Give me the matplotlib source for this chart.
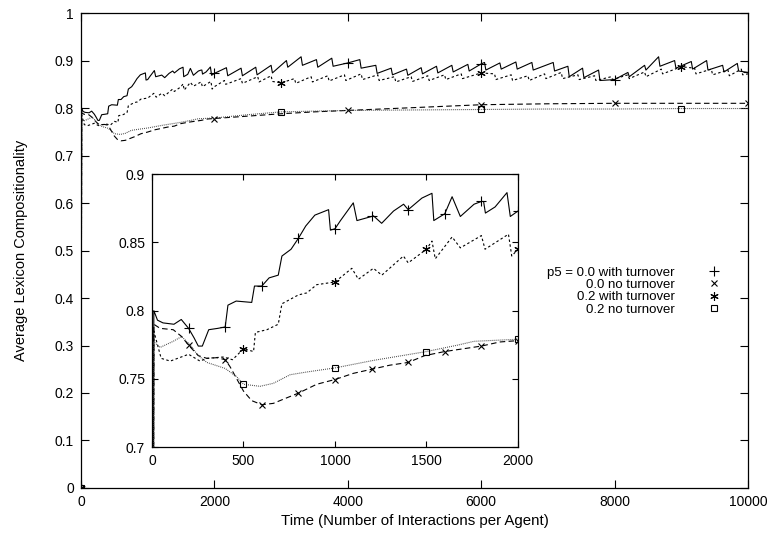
import numpy as np
import matplotlib
matplotlib.use("Agg")
import matplotlib.pyplot as plt
from matplotlib.lines import Line2D

plt.rcParams['font.family'] = ['Liberation Sans', 'DejaVu Sans']

# p5 = 0.0 with turnover (solid, +)
t_a = [0, 10, 30, 60, 120, 160, 200, 230, 253, 275, 310, 360, 400, 415, 460, 545, 560, 600,
       640, 690, 710, 760, 800, 840, 890, 965, 975, 1000, 1030, 1100, 1120, 1200, 1210, 1255,
       1320, 1375, 1400, 1475, 1530, 1540, 1600, 1640, 1685, 1760, 1800, 1812, 1822, 1875,
       1940, 1958, 2000,
       2180, 2200, 2400, 2420, 2620, 2640, 2850, 2870, 3080, 3100, 3300, 3320, 3530, 3550,
       3760, 3780, 4000, 4180, 4200, 4420, 4440, 4650, 4670, 4880, 4900, 5100, 5120, 5330,
       5350, 5560, 5580, 5800, 5820, 6000, 6050, 6070, 6280, 6300, 6520, 6540, 6760, 6780,
       7080, 7100, 7300, 7320, 7520, 7540, 7760, 7780, 8000, 8200, 8220, 8450, 8470, 8660,
       8680, 8900, 8920, 9150, 9170, 9380, 9400, 9620, 9640, 9840, 9860, 10000]
y_a = [0.0, 0.800, 0.793, 0.791, 0.790, 0.7935, 0.787, 0.780, 0.774, 0.774, 0.786, 0.787,
       0.788, 0.804, 0.807, 0.806, 0.818, 0.818, 0.824, 0.826, 0.840, 0.845, 0.853, 0.862,
       0.870, 0.874, 0.859, 0.860, 0.866, 0.879, 0.866, 0.869, 0.8695, 0.864, 0.873, 0.878,
       0.874, 0.8825, 0.886, 0.866, 0.871, 0.8835, 0.869, 0.878, 0.880, 0.880, 0.8715, 0.876,
       0.8865, 0.869, 0.873,
       0.885, 0.868, 0.884, 0.868, 0.886, 0.870, 0.890, 0.874, 0.900, 0.886, 0.908, 0.890,
       0.902, 0.886, 0.905, 0.888, 0.895, 0.902, 0.884, 0.890, 0.873, 0.884, 0.870, 0.882,
       0.869, 0.885, 0.872, 0.888, 0.874, 0.890, 0.876, 0.892, 0.878, 0.893, 0.896, 0.880,
       0.895, 0.882, 0.897, 0.882, 0.896, 0.880, 0.896, 0.878, 0.888, 0.866, 0.884, 0.864,
       0.880, 0.858, 0.860, 0.875, 0.866, 0.890, 0.880, 0.908, 0.888, 0.900, 0.884, 0.898,
       0.882, 0.900, 0.880, 0.890, 0.876, 0.894, 0.878, 0.875]

# 0.0 no turnover (dashed, x)
t_b = [0, 10, 44, 116, 162, 200, 253, 300, 355, 400, 426, 463, 500, 545, 600, 663, 717, 800,
       900, 1000, 1100, 1200, 1300, 1400, 1490, 1600, 1700, 1800, 1900, 2000,
       2500, 3000, 3500, 4000, 5000, 6000, 7000, 8000, 9000, 10000]
y_b = [0.0, 0.790, 0.787, 0.786, 0.781, 0.7746, 0.767, 0.765, 0.7655, 0.764, 0.759, 0.750,
       0.741, 0.734, 0.731, 0.732, 0.735, 0.7395, 0.746, 0.7495, 0.754, 0.757, 0.760, 0.762,
       0.767, 0.770, 0.772, 0.774, 0.777, 0.778,
       0.783, 0.788, 0.792, 0.795, 0.801, 0.807, 0.809, 0.810, 0.810, 0.810]

# 0.2 with turnover (short dash, asterisk)
t_c = [0, 10, 50, 100, 200, 262, 300, 390, 440, 500, 555, 565, 628, 690, 710, 800, 846, 900,
       1000, 1092, 1128, 1210, 1256, 1374, 1400, 1500, 1530, 1548, 1640, 1685, 1800, 1820,
       1948, 1966, 2000,
       2150, 2170, 2400, 2420, 2650, 2670, 2850, 2870, 3000, 3200, 3220, 3450, 3470, 3700,
       3720, 3950, 3970, 4200, 4220, 4450, 4470, 4700, 4720, 4950, 4970, 5200, 5220, 5450,
       5470, 5700, 5720, 6000, 6200, 6220, 6450, 6470, 6700, 6720, 6950, 6970, 7200, 7220,
       7450, 7470, 7700, 7720, 7950, 7970, 8200, 8220, 8450, 8470, 8700, 8720, 9000, 9200,
       9220, 9450, 9470, 9700, 9720, 9900, 9920, 10000]
y_c = [0.0, 0.785, 0.765, 0.763, 0.768, 0.763, 0.765, 0.766, 0.764, 0.772, 0.770, 0.784,
       0.786, 0.790, 0.805, 0.8115, 0.813, 0.819, 0.821, 0.831, 0.823, 0.831, 0.826, 0.840,
       0.835, 0.845, 0.851, 0.838, 0.854, 0.846, 0.855, 0.845, 0.856, 0.840, 0.845,
       0.858, 0.850, 0.862, 0.852, 0.866, 0.855, 0.868, 0.856, 0.853, 0.862, 0.852, 0.866,
       0.855, 0.868, 0.857, 0.870, 0.858, 0.872, 0.860, 0.870, 0.858, 0.866, 0.855, 0.866,
       0.856, 0.868, 0.858, 0.870, 0.860, 0.872, 0.862, 0.874, 0.872, 0.860, 0.870, 0.858,
       0.868, 0.858, 0.872, 0.862, 0.875, 0.862, 0.870, 0.860, 0.868, 0.858, 0.866, 0.860,
       0.870, 0.862, 0.876, 0.866, 0.882, 0.872, 0.887, 0.884, 0.872, 0.882, 0.870, 0.880,
       0.868, 0.882, 0.870, 0.872]

# 0.2 no turnover (fine dots, square)
t_d = [0, 10, 44, 116, 162, 207, 253, 300, 400, 463, 500, 590, 663, 755, 846, 1000, 1210,
       1500, 1670, 1760, 2000, 2500, 3000, 4000, 5000, 6000, 7000, 8000, 9000, 10000]
y_d = [0.0, 0.777, 0.773, 0.7775, 0.781, 0.775, 0.767, 0.762, 0.7576, 0.7515, 0.746, 0.7445,
       0.7467, 0.753, 0.755, 0.758, 0.7635, 0.770, 0.7747, 0.7775, 0.779, 0.786, 0.792,
       0.795, 0.796, 0.797, 0.798, 0.798, 0.799, 0.799]

labels = ["p5 = 0.0 with turnover", "0.0 no turnover", "0.2 with turnover", "0.2 no turnover"]

series = [
    (t_a, y_a, dict(ls='-', color='black'), '+', 6.5, 2000, 200),
    (t_b, y_b, dict(dashes=(5, 3), color='black'), 'x', 5, 2000, 200),
    (t_c, y_c, dict(dashes=(2.2, 2.2), color='black'), (6, 2, 0), 6, 3000, 500),
    (t_d, y_d, dict(dashes=(0.8, 1.0), color='0.25'), 's', 4.5, 3000, 500),
]

fig = plt.figure(figsize=(7.7, 5.36), dpi=100)
ax = fig.add_axes([0.1052, 0.0896, 0.8662, 0.886])
ins = fig.add_axes([0.1974, 0.166, 0.4753, 0.509])

for t, y, style, mk, ms, every_main, every_ins in series:
    t = np.array(t)
    for a, step in ((ax, every_main), (ins, every_ins)):
        a.plot(t, y, lw=0.8, marker=mk, ms=ms, mew=0.8, mfc='none', mec='black',
               markevery=list(t % step == 0), **style)

# main axes
ax.set_xlim(0, 10000)
ax.set_ylim(0, 1)
ax.set_xticks(np.arange(0, 10001, 2000))
ax.set_yticks(np.arange(0, 1.01, 0.1))
ax.set_yticklabels(["0", "0.1", "0.2", "0.3", "0.4", "0.5", "0.6", "0.7", "0.8", "0.9", "1"])
ax.tick_params(direction='in', length=6, width=0.8, top=True, right=True, labelsize=10, pad=5)
ax.set_xlabel("Time (Number of Interactions per Agent)", fontsize=10.8, labelpad=4)
ax.set_ylabel("Average Lexicon Compositionality", fontsize=10.5, labelpad=19)

# inset
ins.set_xlim(0, 2000)
ins.set_ylim(0.7, 0.9)
ins.set_xticks([0, 500, 1000, 1500, 2000])
ins.set_yticks([0.7, 0.75, 0.8, 0.85, 0.9])
ins.set_yticklabels(["0.7", "0.75", "0.8", "0.85", "0.9"])
ins.tick_params(direction='in', length=4, width=0.8, top=True, right=True, labelsize=10, pad=5)

for a in (ax, ins):
    for s in a.spines.values():
        s.set_linewidth(0.9)

handles = [Line2D([], [], ls='none', marker=mk, ms=ms, mew=0.8, mfc='none', mec='black')
           for _, _, _, mk, ms, _, _ in series]
ax.legend(handles, labels, markerfirst=False, frameon=False, fontsize=9.5,
          loc='upper right', bbox_to_anchor=(0.971, 0.48), handlelength=1.2,
          handletextpad=2.4, labelspacing=0.0, borderpad=0)

fig.savefig("out.png", dpi=100)
